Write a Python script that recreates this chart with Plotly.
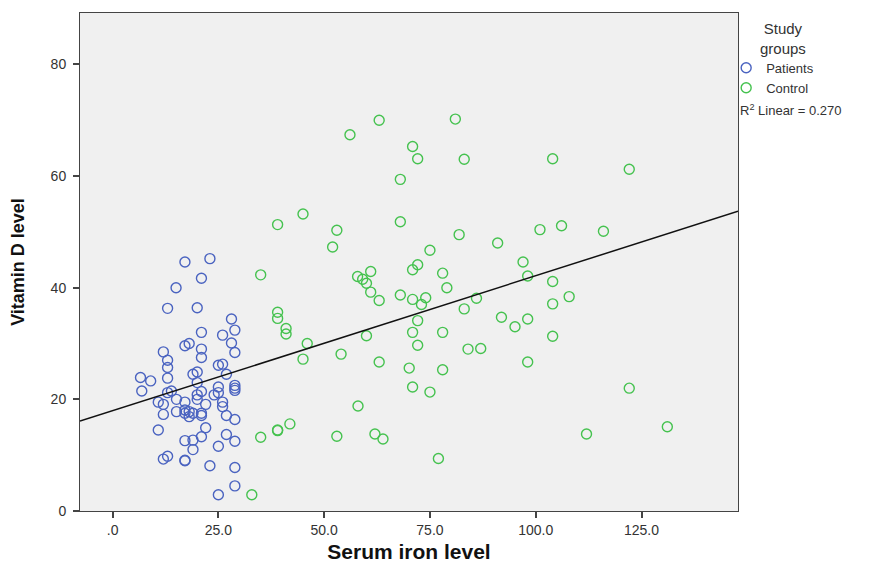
import plotly.graph_objects as go

# ---- data ----
patients_x = [17.1, 23.0, 21.0, 15.0, 13.0, 20.0, 28.1, 28.9, 21.0, 26.0, 28.1, 17.1, 18.1, 12.0, 28.9,
              21.0, 21.0, 13.0, 13.0, 25.0, 26.0, 19.0, 20.0, 26.9, 6.6, 9.0, 13.0, 20.0, 28.9, 28.9,
              28.9, 25.0, 6.9, 13.0, 13.9, 20.0, 20.0, 21.0, 15.1, 17.1, 22.0, 24.0, 25.0, 26.0, 26.0,
              10.8, 12.0, 12.0, 15.1, 17.1, 17.1, 18.1, 18.1, 19.0, 21.0, 21.0, 26.9, 28.9, 10.8, 22.0,
              17.1, 19.0, 21.0, 19.0, 26.9, 28.9, 25.0, 12.0, 13.0, 17.1, 17.1, 23.0, 28.9, 28.9, 25.0]
patients_y = [44.6, 45.2, 41.7, 40.0, 36.3, 36.4, 34.4, 32.4, 32.0, 31.5, 30.1, 29.6, 30.0, 28.5, 28.4,
              29.0, 27.5, 27.0, 25.7, 26.1, 26.3, 24.5, 24.9, 24.5, 23.9, 23.3, 23.8, 23.0, 22.5, 22.0,
              21.6, 22.2, 21.5, 21.2, 21.5, 20.8, 20.0, 21.4, 20.0, 19.5, 19.1, 20.8, 21.2, 19.5, 18.7,
              19.5, 19.1, 17.3, 17.8, 18.1, 17.5, 17.8, 16.9, 17.5, 17.5, 17.1, 17.1, 16.4, 14.5, 14.9,
              12.6, 12.7, 13.3, 11.0, 13.7, 12.5, 11.6, 9.3, 9.8, 9.0, 9.1, 8.1, 7.8, 4.5, 2.9]

control_x = [63.0, 81.0, 56.1, 70.9, 72.1, 83.1, 68.0, 45.0, 39.0, 53.0, 68.0, 81.9, 52.0, 75.0, 91.0,
             35.0, 72.1, 70.9, 61.0, 57.9, 59.1, 60.0, 78.0, 79.0, 61.0, 68.0, 63.0, 70.9, 73.0, 74.0,
             86.0, 83.1, 91.9, 39.0, 39.0, 41.0, 41.0, 46.0, 45.0, 54.0, 60.0, 63.0, 72.1, 70.9, 78.0,
             72.1, 84.0, 87.0, 70.1, 78.0, 70.9, 75.0, 58.0, 41.9, 39.0, 39.0, 35.0, 53.0, 62.0, 63.9,
             77.0, 32.9, 104.0, 122.1, 101.0, 106.1, 116.0, 97.0, 98.1, 104.0, 107.9, 104.0, 98.1, 95.1,
             104.0, 98.1, 122.1, 131.1, 112.0]
control_y = [70.0, 70.2, 67.4, 65.3, 63.1, 63.0, 59.4, 53.2, 51.3, 50.3, 51.8, 49.5, 47.3, 46.7, 48.0,
             42.3, 44.1, 43.2, 42.9, 42.0, 41.5, 40.8, 42.6, 40.0, 39.2, 38.7, 37.7, 37.9, 37.0, 38.2,
             38.1, 36.2, 34.7, 35.6, 34.5, 32.7, 31.7, 30.0, 27.2, 28.1, 31.4, 26.7, 34.1, 32.0, 32.0,
             29.7, 29.0, 29.1, 25.6, 25.3, 22.2, 21.3, 18.8, 15.6, 14.4, 14.5, 13.2, 13.4, 13.8, 12.9,
             9.4, 2.9, 63.1, 61.2, 50.4, 51.1, 50.1, 44.6, 42.1, 41.1, 38.4, 37.1, 34.4, 33.0,
             31.3, 26.7, 22.0, 15.1, 13.8]

fit_intercept = 17.96
fit_slope = 0.2418
r2_text = "0.270"

x_range = [-7.7, 147.8]
y_range = [0, 89.2]
x_tickvals = [0, 25, 50, 75, 100, 125]
x_ticktext = [".0", "25.0", "50.0", "75.0", "100.0", "125.0"]
y_tickvals = [0, 20, 40, 60, 80]
y_ticktext = ["0", "20", "40", "60", "80"]

BLUE = "#4a63c0"
GREEN = "#45c24f"
FONT = "Liberation Sans, Arial, sans-serif"

fig = go.Figure()
fig.add_trace(go.Scatter(
    x=patients_x, y=patients_y, mode="markers", name="Patients",
    marker=dict(symbol="circle-open", size=10, color=BLUE, line=dict(width=1.4, color=BLUE)),
))
fig.add_trace(go.Scatter(
    x=control_x, y=control_y, mode="markers", name="Control",
    marker=dict(symbol="circle-open", size=10, color=GREEN, line=dict(width=1.4, color=GREEN)),
))
line_x = [x_range[0], x_range[1]]
line_y = [fit_intercept + fit_slope * v for v in line_x]
fig.add_trace(go.Scatter(
    x=line_x, y=line_y, mode="lines", showlegend=False,
    line=dict(color="#111111", width=1.5), hoverinfo="skip",
))

axis_common = dict(
    showgrid=False, zeroline=False, showline=True, linecolor="#444444", linewidth=1,
    mirror=True, ticks="outside", ticklen=6, tickcolor="#444444", tickwidth=2,
    tickfont=dict(family=FONT, size=14, color="#333333"), automargin=False,
)
fig.update_xaxes(range=x_range, tickmode="array", tickvals=x_tickvals, ticktext=x_ticktext,
                 title=dict(text="<b>Serum iron level</b>", font=dict(family=FONT, size=21, color="#111111"),
                            standoff=15),
                 **axis_common)
fig.update_yaxes(range=y_range, tickmode="array", tickvals=y_tickvals, ticktext=y_ticktext,
                 ticklabelstandoff=4,
                 title=dict(text="<b>Vitamin D level</b>",
                            font=dict(family="Liberation Sans Narrow, Arial Narrow, Liberation Sans", size=18,
                                      color="#111111"),
                            standoff=22),
                 **axis_common)

# the page body adds an 8px offset, so the figure is 8px smaller with margins shifted accordingly
fig.update_layout(
    width=867, height=555,
    margin=dict(l=72, r=137, t=5, b=52, autoexpand=False),
    paper_bgcolor="white", plot_bgcolor="#f0f0f0",
    font=dict(family=FONT, size=13, color="#333333"),
    legend=dict(
        x=0.982, xanchor="left", y=0.92, yanchor="top",
        font=dict(family=FONT, size=13, color="#333333"),
        itemwidth=30, bgcolor="rgba(0,0,0,0)", tracegroupgap=0,
    ),
    annotations=[
        dict(xref="paper", yref="paper", x=1.068, y=0.99, xanchor="center", yanchor="top",
             text="Study<br>groups", showarrow=False,
             font=dict(family=FONT, size=15, color="#333333")),
        dict(xref="paper", yref="paper", x=1.0, y=0.805, xanchor="left", yanchor="middle",
             text="R<sup>2</sup> Linear = " + r2_text, showarrow=False,
             font=dict(family=FONT, size=13, color="#333333")),
    ],
)

fig.write_html("out.html")
